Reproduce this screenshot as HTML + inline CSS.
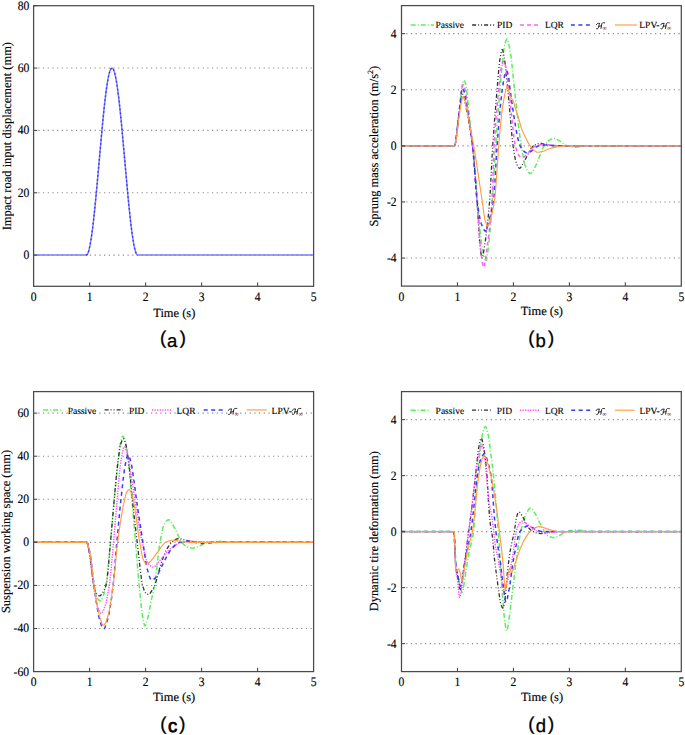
<!DOCTYPE html>
<html><head><meta charset="utf-8"><style>
html,body{margin:0;padding:0;background:#fff;width:685px;height:735px;overflow:hidden}
svg{display:block}
text{text-rendering:geometricPrecision}
.tk{font-family:"Liberation Serif", serif;font-size:12.9px;fill:#000;stroke:#000;stroke-width:0.15px}
.lab{font-family:"Liberation Serif", serif;font-size:12.48px;fill:#000;stroke:#000;stroke-width:0.15px}
.leg{font-family:"Liberation Serif", serif;font-size:9.5px;fill:#000;stroke:#000;stroke-width:0.12px}
.inf{font-family:"Liberation Serif", serif;font-size:6px;fill:#222}
.sub{font-family:"Liberation Sans", sans-serif;font-size:18.5px;fill:#000;stroke:#000;stroke-width:0.3px}
</style></head><body>
<svg width="685" height="735" viewBox="0 0 685 735">
<rect width="685" height="735" fill="#fff"/>
<line x1="38.30" y1="255.12" x2="313.10" y2="255.12" stroke="#8a8a8a" stroke-width="1.1" stroke-dasharray="1.2 3.495"/>
<line x1="38.30" y1="192.77" x2="313.10" y2="192.77" stroke="#8a8a8a" stroke-width="1.1" stroke-dasharray="1.2 3.495"/>
<line x1="38.30" y1="130.41" x2="313.10" y2="130.41" stroke="#8a8a8a" stroke-width="1.1" stroke-dasharray="1.2 3.495"/>
<line x1="38.30" y1="68.06" x2="313.10" y2="68.06" stroke="#8a8a8a" stroke-width="1.1" stroke-dasharray="1.2 3.495"/>
<line x1="406.20" y1="258.05" x2="680.80" y2="258.05" stroke="#8a8a8a" stroke-width="1.1" stroke-dasharray="1.2 3.495"/>
<line x1="406.20" y1="201.95" x2="680.80" y2="201.95" stroke="#8a8a8a" stroke-width="1.1" stroke-dasharray="1.2 3.495"/>
<line x1="406.20" y1="145.85" x2="680.80" y2="145.85" stroke="#8a8a8a" stroke-width="1.1" stroke-dasharray="1.2 3.495"/>
<line x1="406.20" y1="89.75" x2="680.80" y2="89.75" stroke="#8a8a8a" stroke-width="1.1" stroke-dasharray="1.2 3.495"/>
<line x1="406.20" y1="33.65" x2="680.80" y2="33.65" stroke="#8a8a8a" stroke-width="1.1" stroke-dasharray="1.2 3.495"/>
<line x1="38.30" y1="628.52" x2="313.10" y2="628.52" stroke="#8a8a8a" stroke-width="1.1" stroke-dasharray="1.2 3.495"/>
<line x1="38.30" y1="585.45" x2="313.10" y2="585.45" stroke="#8a8a8a" stroke-width="1.1" stroke-dasharray="1.2 3.495"/>
<line x1="38.30" y1="542.37" x2="313.10" y2="542.37" stroke="#8a8a8a" stroke-width="1.1" stroke-dasharray="1.2 3.495"/>
<line x1="38.30" y1="499.29" x2="313.10" y2="499.29" stroke="#8a8a8a" stroke-width="1.1" stroke-dasharray="1.2 3.495"/>
<line x1="38.30" y1="456.22" x2="313.10" y2="456.22" stroke="#8a8a8a" stroke-width="1.1" stroke-dasharray="1.2 3.495"/>
<line x1="38.30" y1="413.14" x2="313.10" y2="413.14" stroke="#8a8a8a" stroke-width="1.1" stroke-dasharray="1.2 3.495"/>
<line x1="406.20" y1="643.60" x2="680.80" y2="643.60" stroke="#8a8a8a" stroke-width="1.1" stroke-dasharray="1.2 3.495"/>
<line x1="406.20" y1="587.60" x2="680.80" y2="587.60" stroke="#8a8a8a" stroke-width="1.1" stroke-dasharray="1.2 3.495"/>
<line x1="406.20" y1="531.60" x2="680.80" y2="531.60" stroke="#8a8a8a" stroke-width="1.1" stroke-dasharray="1.2 3.495"/>
<line x1="406.20" y1="475.60" x2="680.80" y2="475.60" stroke="#8a8a8a" stroke-width="1.1" stroke-dasharray="1.2 3.495"/>
<line x1="406.20" y1="419.60" x2="680.80" y2="419.60" stroke="#8a8a8a" stroke-width="1.1" stroke-dasharray="1.2 3.495"/>
<path d="M33.60,255.12 L86.24,255.12 L86.69,254.97 L87.14,254.57 L87.58,253.87 L88.03,252.90 L88.70,250.93 L89.38,248.36 L90.72,241.51 L92.06,232.50 L93.63,219.62 L94.98,206.87 L96.32,192.91 L102.82,120.84 L104.38,105.58 L105.95,92.37 L107.52,81.67 L108.42,76.85 L109.09,73.89 L109.98,70.87 L110.66,69.30 L111.33,68.36 L112.00,68.06 L112.67,68.36 L113.34,69.30 L114.02,70.87 L114.91,73.89 L116.26,80.37 L117.82,90.67 L119.39,103.56 L121.18,120.84 L127.90,195.31 L129.47,211.27 L130.82,223.54 L132.38,235.73 L133.95,245.21 L134.85,249.29 L135.52,251.65 L136.42,253.87 L137.09,254.82 L137.76,255.12 L313.60,255.12" fill="none" stroke="#7c7cff" stroke-width="1.5" stroke-linejoin="round"/>
<path d="M86.24,255.12 L86.69,254.98 L86.91,254.81 L87.36,254.24 L87.81,253.40 L88.49,251.62 L89.39,248.31 L90.06,245.13 L90.96,240.02 L92.76,227.04 L94.34,213.09 L95.91,197.23 L101.31,136.86 L103.11,117.82 L104.69,102.84 L106.26,90.03 L107.84,79.85 L108.51,76.39 L109.19,73.50 L110.09,70.59 L110.76,69.12 L111.44,68.28 L111.66,68.13 L112.11,68.07 L112.34,68.13 L112.79,68.49 L113.24,69.12 L113.69,70.03 L114.36,71.91 L115.26,75.36 L115.94,78.63 L116.84,83.86 L118.64,97.06 L120.21,111.17 L121.79,127.13 L126.96,185.07 L128.76,204.22 L130.56,221.33 L132.14,233.97 L133.71,243.95 L134.39,247.31 L135.06,250.10 L135.74,252.29 L136.41,253.86 L137.09,254.81 L137.31,254.98 L137.76,255.12" fill="none" stroke="#3232f0" stroke-width="1.3" stroke-dasharray="1.6 2.4" stroke-linejoin="round"/>
<path d="M401.50,145.85 L454.55,145.82 L454.77,145.54 L455.00,145.02 L455.45,143.27 L456.34,137.55 L459.47,109.24 L460.82,96.28 L462.16,85.80 L462.61,83.35 L463.28,81.28 L463.73,80.39 L463.95,80.22 L464.18,80.28 L464.40,80.53 L465.29,82.74 L465.74,84.51 L466.41,88.55 L467.09,93.41 L469.32,116.02 L472.68,144.21 L474.02,158.87 L479.40,224.79 L480.74,238.54 L481.41,243.39 L482.75,250.55 L483.65,254.73 L484.32,257.28 L484.77,258.61 L485.44,259.93 L485.89,260.28 L486.11,260.26 L486.34,259.97 L486.78,258.61 L487.23,256.34 L487.68,253.32 L488.80,243.60 L490.59,225.59 L491.93,206.75 L495.51,148.22 L498.87,102.08 L500.88,78.07 L502.68,59.49 L503.79,50.00 L504.47,46.27 L505.59,41.91 L506.26,39.98 L506.70,39.21 L506.93,39.02 L507.15,38.99 L507.38,39.14 L507.60,39.49 L508.05,40.68 L508.50,42.41 L510.29,51.73 L510.96,56.34 L511.85,64.00 L514.09,85.75 L518.34,123.98 L519.91,136.78 L521.25,145.85 L523.49,158.40 L524.39,162.51 L525.06,165.01 L525.73,166.89 L527.52,170.73 L528.64,172.53 L529.54,173.41 L529.98,173.59 L530.43,173.59 L530.88,173.40 L531.55,172.80 L532.67,171.22 L535.36,166.54 L536.25,164.68 L537.37,162.03 L541.85,150.42 L542.97,147.98 L544.09,146.02 L546.32,142.98 L547.44,141.71 L548.34,140.88 L549.23,140.24 L551.25,139.08 L552.37,138.59 L553.26,138.34 L554.16,138.28 L554.83,138.39 L556.40,139.04 L560.43,141.47 L564.90,144.64 L566.69,145.60 L570.72,146.72 L572.51,147.06 L574.08,147.22 L575.65,147.24 L577.21,147.11 L583.26,146.09 L585.94,145.85 L681.30,145.85" fill="none" stroke="#5cee5c" stroke-width="1.5" stroke-dasharray="5 2 1 2" stroke-linejoin="round"/>
<path d="M401.50,145.85 L454.55,145.81 L454.77,145.51 L455.22,144.08 L455.89,140.25 L456.56,134.93 L458.58,116.40 L460.37,104.16 L461.71,96.68 L462.38,94.83 L462.61,94.44 L462.83,94.25 L463.06,94.32 L463.50,95.21 L464.18,97.39 L465.29,103.77 L468.65,120.60 L471.11,135.05 L472.68,146.81 L474.02,160.65 L475.81,183.75 L477.16,202.39 L478.95,232.70 L479.62,241.81 L480.52,249.94 L481.19,255.00 L481.63,257.22 L481.86,257.83 L482.08,258.05 L482.31,257.90 L482.53,257.47 L483.20,254.81 L485.44,240.33 L487.01,228.16 L488.35,215.33 L489.47,202.73 L490.14,193.59 L492.16,155.30 L493.05,140.86 L494.39,122.31 L495.96,102.84 L498.65,70.97 L499.54,62.06 L499.99,58.89 L501.11,52.63 L501.78,50.18 L502.00,49.78 L502.23,49.64 L502.45,49.79 L502.90,50.85 L503.57,53.84 L504.69,60.24 L505.59,67.22 L508.50,96.76 L511.63,132.92 L512.52,141.50 L513.20,146.63 L514.76,156.61 L515.43,159.94 L515.88,161.68 L517.00,164.63 L517.90,166.56 L518.57,167.62 L519.24,168.21 L519.69,168.28 L520.14,168.08 L520.58,167.66 L521.25,166.71 L523.05,163.42 L525.06,160.00 L529.76,150.74 L530.88,148.85 L532.00,147.29 L532.67,146.55 L533.34,145.99 L535.36,144.84 L537.59,143.83 L539.39,143.39 L540.50,143.33 L541.62,143.47 L545.65,144.73 L547.00,145.01 L552.82,145.62 L557.29,145.84 L681.30,145.85" fill="none" stroke="#333333" stroke-width="1.3" stroke-dasharray="4 2 1 2 1 2" stroke-linejoin="round"/>
<path d="M401.50,145.85 L454.55,145.82 L454.77,145.54 L455.00,145.01 L455.45,143.27 L456.34,137.53 L460.59,98.63 L461.71,89.62 L462.16,87.15 L462.61,85.68 L463.06,84.64 L463.28,84.43 L463.50,84.51 L463.95,85.40 L464.85,88.42 L465.97,94.67 L466.64,99.78 L468.65,117.80 L471.56,137.75 L472.68,146.87 L473.80,158.66 L475.14,175.45 L477.38,205.34 L479.40,235.50 L480.07,243.64 L481.41,255.42 L482.31,262.12 L482.98,265.66 L483.43,266.99 L483.65,267.27 L483.87,267.27 L484.10,266.96 L484.54,265.51 L485.44,260.16 L489.25,230.54 L490.14,222.34 L491.04,212.60 L491.93,200.80 L492.38,192.51 L493.72,155.61 L494.39,142.02 L495.96,118.74 L497.75,98.02 L499.77,78.62 L500.88,69.76 L501.33,67.25 L502.00,64.83 L502.90,62.36 L503.57,61.29 L503.79,61.16 L504.02,61.17 L504.24,61.40 L504.91,63.21 L506.26,69.25 L506.93,73.34 L509.61,95.52 L513.42,133.01 L514.32,140.02 L514.99,144.07 L516.33,149.36 L517.23,152.14 L517.90,153.82 L518.57,155.08 L519.02,155.67 L520.36,156.97 L521.48,157.70 L522.15,157.90 L522.60,157.89 L523.27,157.66 L523.94,157.19 L528.19,152.96 L532.45,148.20 L533.57,147.16 L534.68,146.35 L535.58,145.92 L538.27,145.21 L540.50,144.77 L542.74,144.50 L544.53,144.45 L546.77,144.57 L554.61,145.62 L557.96,145.85 L681.30,145.85" fill="none" stroke="#ff5cff" stroke-width="1.5" stroke-dasharray="3.8 3.2" stroke-linejoin="round"/>
<path d="M401.50,145.85 L454.55,145.81 L454.77,145.54 L455.00,145.01 L455.45,143.26 L456.34,137.51 L461.49,91.41 L462.16,88.85 L462.38,88.33 L462.61,88.08 L462.83,88.16 L463.28,89.04 L464.18,91.77 L465.07,95.68 L465.97,100.32 L470.44,129.55 L471.79,139.26 L472.68,146.89 L473.35,154.26 L476.26,193.17 L476.93,199.56 L478.50,210.48 L479.84,218.05 L480.52,221.05 L481.19,223.44 L482.53,226.93 L483.65,229.33 L484.54,230.63 L484.99,230.99 L485.44,231.12 L485.66,231.05 L486.11,230.51 L486.56,229.51 L487.01,228.15 L489.25,219.20 L491.48,211.29 L492.60,206.35 L493.72,199.58 L494.17,195.07 L494.62,188.76 L496.41,156.24 L497.08,145.85 L499.09,120.44 L500.66,103.21 L502.00,91.39 L503.79,79.60 L504.47,76.31 L504.91,74.66 L505.81,72.18 L506.26,71.30 L506.48,71.05 L506.70,70.96 L506.93,71.08 L507.38,71.95 L507.82,73.43 L508.50,76.27 L508.94,79.54 L510.06,89.75 L513.87,116.18 L516.11,129.85 L517.23,135.62 L518.12,139.57 L519.02,142.85 L519.69,144.80 L520.58,146.76 L521.70,148.75 L522.82,150.30 L523.72,151.20 L525.28,152.28 L526.40,152.86 L527.07,153.07 L527.75,153.14 L528.42,153.01 L529.09,152.69 L532.89,149.88 L536.25,147.03 L537.82,146.09 L538.49,145.87 L541.18,145.44 L545.43,145.04 L549.01,145.08 L555.28,145.71 L557.96,145.85 L681.30,145.85" fill="none" stroke="#3a3aff" stroke-width="1.5" stroke-dasharray="4 3.5" stroke-linejoin="round"/>
<path d="M401.50,145.85 L454.55,145.82 L454.77,145.57 L455.22,144.38 L455.67,142.39 L456.12,139.77 L458.80,118.71 L460.82,105.18 L461.71,100.55 L462.16,98.88 L463.06,96.74 L463.28,96.51 L463.50,96.51 L463.73,96.74 L464.18,97.67 L464.85,99.74 L471.11,131.84 L473.58,145.21 L475.37,155.95 L477.38,168.89 L482.31,201.48 L483.87,213.14 L484.77,218.84 L485.22,220.86 L486.34,223.94 L487.23,225.62 L487.68,226.02 L487.90,226.07 L488.13,225.98 L488.35,225.71 L489.02,224.08 L491.93,213.52 L493.27,207.56 L494.62,199.60 L495.07,195.76 L495.74,188.03 L498.65,146.50 L500.44,125.92 L501.56,114.73 L502.68,106.36 L504.24,97.22 L505.59,91.19 L506.70,87.09 L507.15,86.15 L507.38,86.14 L507.60,86.45 L508.05,87.72 L509.17,91.99 L510.06,95.96 L510.51,97.39 L510.96,98.03 L511.85,98.81 L512.30,99.40 L512.97,100.57 L513.64,102.11 L516.55,112.02 L519.02,119.76 L520.81,126.45 L521.93,129.66 L523.27,132.88 L525.51,137.58 L527.75,141.86 L529.54,144.85 L531.55,147.79 L532.67,149.26 L533.79,150.38 L535.58,151.51 L536.92,152.11 L537.82,152.29 L539.16,152.22 L542.74,151.40 L544.09,150.93 L547.89,149.29 L552.37,147.92 L555.50,147.14 L557.52,146.78 L560.65,146.41 L566.92,145.90 L681.30,145.85" fill="none" stroke="#ff9d45" stroke-width="1.15" stroke-linejoin="round"/>
<path d="M33.60,542.37 L86.46,542.37 L86.69,542.43 L87.14,543.16 L87.58,544.53 L89.38,552.65 L90.50,560.11 L93.18,581.28 L93.86,585.18 L95.65,593.28 L96.77,597.02 L97.22,598.01 L97.66,598.68 L98.78,600.04 L99.68,600.75 L100.13,600.92 L100.58,600.92 L101.02,600.56 L101.70,599.43 L102.37,597.88 L103.49,595.07 L104.38,592.33 L105.28,588.87 L105.95,585.73 L106.85,579.98 L107.52,574.19 L108.42,565.14 L111.10,535.67 L114.02,501.75 L116.03,480.02 L117.38,466.83 L119.17,451.16 L120.06,444.97 L121.63,438.20 L122.30,436.49 L122.53,436.24 L122.75,436.19 L123.20,436.54 L123.87,437.93 L124.77,440.83 L125.89,445.14 L126.56,448.65 L127.23,452.91 L128.80,464.83 L130.14,478.48 L138.21,574.67 L139.78,591.86 L141.34,607.00 L142.46,615.84 L144.03,623.75 L144.48,625.19 L144.70,625.63 L144.93,625.82 L145.15,625.78 L145.38,625.55 L146.05,624.07 L147.84,617.80 L148.74,613.57 L151.20,600.52 L153.44,590.98 L154.56,585.45 L155.23,581.14 L155.90,575.96 L158.37,554.15 L159.26,547.05 L160.38,540.18 L162.18,530.81 L163.07,527.16 L163.97,524.70 L165.09,522.84 L165.98,521.57 L166.88,520.58 L167.78,519.94 L168.22,519.79 L168.67,519.76 L169.34,520.02 L170.24,520.86 L171.36,522.47 L174.72,528.15 L179.42,538.34 L180.54,540.44 L181.66,542.10 L184.35,544.96 L185.47,545.91 L186.37,546.53 L187.26,546.98 L188.38,547.36 L191.30,548.07 L193.31,548.16 L195.10,547.74 L200.26,545.66 L205.18,543.35 L207.42,542.56 L212.35,541.74 L216.61,541.34 L218.62,541.29 L220.19,541.37 L226.69,542.19 L229.38,542.37 L313.60,542.37" fill="none" stroke="#5cee5c" stroke-width="1.5" stroke-dasharray="5 2 1 2" stroke-linejoin="round"/>
<path d="M33.60,542.37 L86.46,542.37 L86.69,542.43 L87.14,543.16 L87.58,544.53 L89.38,552.66 L90.27,558.61 L92.96,580.22 L93.63,584.19 L94.53,587.83 L95.65,591.56 L96.32,593.19 L96.77,593.93 L98.11,595.29 L98.78,595.75 L99.23,595.93 L99.90,595.97 L100.35,595.74 L100.80,595.32 L103.49,591.46 L104.83,588.81 L105.50,587.04 L106.18,584.80 L106.85,580.92 L107.52,575.32 L108.19,568.48 L114.02,501.75 L116.26,477.29 L117.38,466.66 L119.39,451.09 L120.06,446.96 L120.51,444.82 L120.96,443.29 L122.30,440.11 L122.98,439.10 L123.42,438.80 L123.65,438.77 L124.10,439.14 L124.54,440.03 L124.99,441.33 L125.66,443.81 L127.01,449.82 L127.90,455.84 L130.14,475.56 L132.16,497.61 L133.73,512.50 L137.76,547.19 L140.22,569.50 L141.57,579.68 L142.46,584.55 L143.36,587.84 L144.26,590.56 L144.93,592.08 L145.38,592.76 L146.27,593.51 L147.17,594.07 L148.06,594.42 L148.74,594.49 L149.18,594.33 L149.86,593.70 L152.99,588.90 L153.89,587.25 L154.78,585.31 L155.46,583.50 L156.35,580.55 L159.49,568.83 L161.73,561.83 L164.19,554.68 L165.31,551.95 L166.21,550.11 L168.67,546.09 L169.79,544.59 L170.91,543.31 L171.81,542.46 L174.72,540.10 L175.84,539.38 L176.96,538.89 L178.08,538.71 L179.87,538.85 L181.66,539.19 L185.70,540.25 L187.49,540.63 L195.78,541.94 L198.46,542.23 L200.70,542.36 L313.60,542.37" fill="none" stroke="#333333" stroke-width="1.3" stroke-dasharray="4 2 1 2 1 2" stroke-linejoin="round"/>
<path d="M33.60,542.37 L86.46,542.37 L86.69,542.43 L87.14,543.14 L87.81,545.35 L89.15,551.52 L89.60,554.05 L90.50,560.62 L92.29,576.24 L93.18,583.25 L95.20,595.63 L96.54,602.76 L97.66,607.13 L98.78,609.97 L99.68,611.89 L100.35,612.92 L100.80,613.33 L101.25,613.44 L101.47,613.38 L101.92,613.04 L102.82,611.64 L103.71,609.59 L105.06,606.06 L105.95,603.03 L106.85,599.24 L107.74,594.76 L109.54,583.92 L110.43,576.38 L111.55,564.69 L114.46,531.57 L118.94,478.51 L119.84,469.17 L120.29,465.58 L121.18,459.82 L122.53,452.10 L123.20,449.22 L123.65,447.84 L124.10,446.99 L124.32,446.79 L124.54,446.74 L124.77,446.84 L125.22,447.42 L125.66,448.42 L126.11,449.77 L127.23,454.12 L129.02,462.04 L131.71,478.46 L134.62,498.22 L139.10,526.49 L141.12,537.61 L143.81,549.87 L145.60,557.13 L146.50,560.01 L147.17,561.67 L147.84,562.83 L149.63,564.98 L150.75,566.05 L151.87,566.79 L152.77,567.10 L153.66,567.08 L154.56,566.66 L155.46,565.91 L156.58,564.64 L159.49,560.80 L161.95,558.03 L166.66,552.40 L168.90,550.02 L170.69,548.48 L175.17,545.40 L176.96,544.34 L178.75,543.44 L180.10,542.90 L181.44,542.50 L185.92,541.66 L189.06,541.33 L192.64,541.32 L197.12,541.52 L207.42,542.21 L212.35,542.37 L313.60,542.37" fill="none" stroke="#ff4cff" stroke-width="1.45" stroke-dasharray="1.3 1.25" stroke-linejoin="round"/>
<path d="M33.60,542.37 L86.91,542.37 L87.14,542.38 L87.36,542.54 L87.81,543.43 L88.48,545.81 L89.82,552.08 L90.27,554.70 L91.17,561.22 L93.86,583.83 L96.77,604.93 L98.34,614.38 L99.01,617.34 L100.35,622.14 L101.25,625.03 L101.92,626.81 L102.59,628.13 L103.04,628.69 L103.49,628.94 L103.71,628.94 L104.16,628.69 L104.61,628.13 L105.06,627.31 L105.95,625.03 L106.85,622.14 L108.42,616.47 L109.76,609.85 L111.33,599.58 L112.67,589.16 L113.57,581.32 L114.46,571.35 L116.48,546.19 L118.50,524.06 L120.29,505.65 L122.98,480.72 L124.32,470.30 L126.11,460.41 L126.78,457.36 L127.23,455.86 L127.68,454.93 L127.90,454.73 L128.13,454.72 L128.35,454.86 L128.80,455.48 L129.70,457.81 L131.26,463.58 L131.94,467.06 L134.18,482.26 L136.19,497.67 L137.98,510.20 L143.14,543.82 L145.38,559.24 L146.27,564.68 L147.17,568.88 L149.18,575.83 L150.30,578.75 L150.98,579.84 L151.42,580.21 L151.87,580.27 L152.54,580.10 L153.66,579.42 L154.78,578.38 L156.35,576.71 L157.25,575.49 L158.59,573.04 L161.73,566.30 L166.66,556.64 L168.67,552.99 L170.24,550.62 L173.38,546.86 L175.62,544.53 L177.41,543.14 L178.30,542.67 L179.20,542.37 L181.89,541.83 L184.13,541.50 L186.37,541.32 L188.38,541.31 L191.52,541.70 L198.46,543.17 L200.03,543.37 L201.60,543.45 L205.18,543.32 L213.92,542.56 L217.95,542.37 L313.60,542.37" fill="none" stroke="#3a3aff" stroke-width="1.5" stroke-dasharray="4 3.5" stroke-linejoin="round"/>
<path d="M33.60,542.37 L86.69,542.37 L86.91,542.39 L87.14,542.56 L87.81,543.93 L88.48,546.24 L89.82,552.02 L90.27,554.58 L91.17,561.15 L93.86,583.90 L96.32,600.28 L97.89,609.30 L99.01,614.14 L100.58,619.43 L101.47,622.10 L102.14,623.69 L102.59,624.49 L103.26,625.20 L103.71,625.28 L104.38,624.86 L105.06,623.89 L105.73,622.48 L106.40,620.73 L108.42,614.45 L109.09,611.63 L109.76,608.20 L111.33,598.39 L113.34,583.72 L114.24,575.64 L117.15,546.02 L118.94,532.49 L120.96,518.96 L123.20,506.22 L124.32,500.95 L125.66,495.43 L126.34,493.09 L126.78,491.92 L127.68,490.59 L128.13,490.13 L128.58,489.85 L129.02,489.85 L129.70,490.31 L130.37,491.15 L131.26,492.60 L132.16,495.14 L133.28,499.53 L134.18,504.01 L135.07,509.63 L137.98,531.12 L139.10,538.75 L141.79,553.74 L142.69,557.63 L143.36,559.60 L144.93,562.72 L145.60,563.63 L146.27,564.09 L146.72,564.11 L147.17,563.99 L148.06,563.49 L150.30,561.56 L151.42,560.40 L152.77,558.71 L155.68,554.61 L157.92,551.67 L161.73,546.28 L162.85,544.87 L163.97,543.67 L165.31,542.61 L167.33,541.66 L169.79,540.75 L171.81,540.30 L173.15,540.22 L174.94,540.33 L181.66,541.47 L187.26,542.19 L190.18,542.37 L313.60,542.37" fill="none" stroke="#ff9d45" stroke-width="1.15" stroke-linejoin="round"/>
<path d="M401.50,531.60 L453.88,531.60 L454.10,532.61 L454.33,535.36 L455.45,560.53 L455.89,568.07 L456.12,569.66 L456.34,570.54 L457.24,572.88 L457.68,574.51 L459.47,583.88 L460.82,589.26 L461.27,590.78 L461.71,591.88 L461.94,592.20 L462.16,592.35 L462.38,592.25 L462.83,591.04 L463.28,588.79 L467.76,559.32 L468.65,554.00 L469.55,549.76 L471.56,542.09 L472.23,539.16 L472.90,535.62 L473.58,531.18 L474.02,526.74 L474.47,520.78 L476.49,489.60 L478.28,468.55 L479.62,455.14 L481.19,442.20 L482.31,435.08 L483.20,431.45 L484.10,428.43 L484.77,426.97 L485.22,426.60 L485.44,426.64 L485.89,427.12 L486.34,428.05 L486.78,429.36 L488.35,435.49 L488.80,437.97 L492.60,467.95 L493.72,477.70 L495.74,499.12 L498.20,530.10 L499.09,543.09 L501.56,582.89 L503.57,609.66 L504.24,616.56 L505.59,626.82 L506.26,630.23 L506.48,630.80 L506.70,631.00 L506.93,630.83 L507.15,630.34 L507.82,627.35 L509.84,613.27 L512.75,588.51 L515.66,565.10 L518.57,544.06 L520.14,534.34 L521.03,530.13 L522.37,524.66 L523.49,520.71 L524.61,517.40 L525.51,515.26 L527.75,510.88 L528.86,509.17 L529.76,508.32 L530.43,508.08 L530.88,508.14 L531.33,508.36 L532.22,509.18 L533.34,510.74 L537.15,517.13 L541.40,526.36 L542.74,529.05 L543.86,530.91 L544.98,532.38 L547.00,534.70 L548.56,536.01 L549.23,536.36 L551.03,537.05 L553.26,537.65 L555.05,537.73 L555.73,537.58 L556.62,537.22 L561.10,534.58 L564.23,532.50 L565.80,531.74 L568.04,531.24 L570.95,530.74 L573.41,530.43 L575.87,530.25 L578.11,530.20 L580.12,530.31 L588.18,531.37 L591.54,531.60 L681.30,531.60" fill="none" stroke="#5cee5c" stroke-width="1.5" stroke-dasharray="5 2 1 2" stroke-linejoin="round"/>
<path d="M401.50,531.60 L453.65,531.60 L453.88,531.85 L454.10,533.73 L454.33,537.09 L455.45,561.92 L455.89,568.00 L456.34,570.53 L457.68,576.16 L459.47,587.30 L459.92,588.88 L460.15,589.23 L460.37,589.23 L460.59,588.88 L460.82,588.21 L461.49,584.76 L464.18,566.05 L468.43,533.29 L471.34,511.71 L473.13,496.82 L478.05,451.95 L478.72,447.60 L480.07,440.74 L480.74,438.56 L480.96,438.20 L481.19,438.08 L481.41,438.19 L481.63,438.51 L482.08,439.69 L482.98,443.55 L484.32,450.82 L485.44,459.41 L486.34,468.36 L487.01,476.34 L488.35,499.89 L489.02,509.83 L489.69,518.13 L490.36,524.21 L491.04,529.08 L492.38,536.49 L492.83,539.55 L494.17,556.24 L495.07,564.00 L497.98,586.00 L499.99,600.36 L500.44,602.60 L501.33,605.44 L502.00,607.09 L502.45,607.79 L502.68,607.97 L502.90,608.04 L503.12,607.88 L503.35,607.44 L503.79,605.85 L505.14,598.05 L505.81,591.57 L507.38,572.68 L508.94,559.58 L510.29,550.38 L511.41,544.39 L513.42,535.89 L514.32,531.60 L515.88,520.80 L516.55,517.01 L517.23,514.89 L517.90,513.19 L518.34,512.40 L518.79,512.02 L519.24,512.07 L519.69,512.34 L520.81,513.71 L523.27,517.73 L525.96,523.45 L526.85,525.14 L528.86,527.96 L530.43,529.84 L531.55,530.88 L532.67,531.58 L536.25,532.85 L539.16,533.46 L540.95,533.56 L542.74,533.42 L544.76,533.05 L549.68,531.90 L552.37,531.60 L681.30,531.60" fill="none" stroke="#333333" stroke-width="1.3" stroke-dasharray="4 2 1 2 1 2" stroke-linejoin="round"/>
<path d="M401.50,531.60 L453.65,531.60 L453.88,531.87 L454.10,533.86 L454.33,537.44 L455.45,564.06 L455.89,570.80 L456.34,573.73 L457.24,577.91 L457.68,580.87 L458.80,592.37 L459.25,595.96 L459.47,597.02 L459.70,597.40 L459.92,597.18 L460.37,595.58 L460.82,592.89 L463.73,572.00 L468.20,535.10 L472.01,506.40 L474.92,480.03 L477.16,463.29 L478.28,456.27 L479.17,452.18 L480.29,448.54 L480.96,446.74 L481.63,445.60 L482.08,445.36 L482.31,445.49 L482.53,445.88 L483.20,448.30 L483.87,452.08 L484.99,459.59 L485.66,465.67 L488.13,493.39 L488.80,499.96 L489.92,507.71 L490.36,509.98 L491.48,514.23 L491.93,516.98 L494.39,536.92 L495.51,547.00 L496.18,550.18 L497.30,554.20 L497.98,557.43 L499.99,570.30 L502.90,587.87 L503.57,590.63 L504.02,591.62 L504.24,591.79 L504.47,591.75 L504.91,591.14 L505.36,589.96 L505.81,588.33 L507.60,580.14 L509.84,570.67 L511.41,563.23 L513.20,553.29 L515.21,537.48 L516.11,532.07 L517.45,527.27 L518.57,524.49 L519.02,523.76 L520.14,522.32 L520.81,521.67 L521.48,521.29 L521.93,521.24 L522.60,521.36 L523.94,522.01 L528.86,525.37 L534.01,529.25 L535.36,530.14 L536.70,530.88 L538.27,531.51 L541.18,532.23 L543.64,532.71 L545.88,532.97 L547.44,532.99 L549.01,532.88 L555.28,531.83 L557.96,531.60 L681.30,531.60" fill="none" stroke="#ff4cff" stroke-width="1.45" stroke-dasharray="1.3 1.25" stroke-linejoin="round"/>
<path d="M401.50,531.60 L453.88,531.60 L454.10,532.14 L454.55,537.86 L455.67,562.23 L456.12,568.00 L456.56,570.32 L457.68,574.56 L459.03,581.27 L459.70,584.18 L460.37,585.95 L460.59,586.17 L460.82,586.16 L461.04,585.87 L461.27,585.31 L461.94,582.32 L462.61,577.87 L464.18,565.91 L464.85,561.79 L465.97,556.17 L469.32,540.53 L470.22,535.68 L471.11,530.12 L472.23,521.50 L474.25,503.60 L476.71,479.26 L477.16,475.95 L478.05,470.65 L479.40,463.95 L480.07,461.33 L480.74,459.32 L482.08,456.47 L482.98,454.95 L483.87,453.98 L484.54,453.76 L484.77,453.86 L485.22,454.40 L485.89,455.90 L488.57,464.46 L489.92,469.66 L491.04,475.60 L491.48,479.13 L492.16,486.69 L494.39,517.43 L495.96,532.06 L497.75,545.71 L500.21,561.21 L502.23,577.78 L504.69,596.95 L505.36,600.70 L505.81,601.99 L506.03,602.16 L506.26,602.04 L506.48,601.70 L507.15,599.60 L509.17,589.22 L510.06,583.56 L512.30,566.72 L513.20,560.85 L516.11,545.47 L517.90,537.53 L518.57,535.16 L519.24,533.22 L519.91,531.79 L520.81,530.44 L521.93,529.08 L523.05,528.06 L523.94,527.46 L525.96,526.46 L526.85,526.16 L527.75,526.01 L528.64,526.06 L529.54,526.28 L530.88,526.85 L534.01,528.51 L538.94,530.72 L540.73,531.35 L542.30,531.60 L681.30,531.60" fill="none" stroke="#3a3aff" stroke-width="1.5" stroke-dasharray="4 3.5" stroke-linejoin="round"/>
<path d="M401.50,531.60 L454.10,531.60 L454.33,532.96 L454.55,536.62 L455.67,566.34 L455.89,570.00 L456.12,571.36 L456.34,571.31 L456.79,570.96 L457.68,569.97 L458.36,569.03 L458.58,568.86 L458.80,568.88 L459.03,569.21 L459.47,570.57 L460.37,574.00 L461.71,580.00 L461.94,580.59 L462.16,580.87 L462.38,580.72 L462.83,578.94 L464.18,569.40 L467.53,551.04 L468.88,545.18 L471.56,535.54 L472.68,530.00 L473.35,525.29 L474.25,517.49 L476.71,492.40 L477.83,482.08 L478.50,477.03 L480.07,467.60 L480.96,463.07 L481.86,459.88 L482.75,458.04 L483.43,456.92 L484.10,456.19 L484.54,456.00 L484.77,456.04 L485.22,456.53 L486.11,458.64 L488.13,464.67 L489.69,470.51 L491.04,476.30 L492.38,482.94 L493.72,490.46 L495.29,500.14 L496.41,507.58 L497.53,515.99 L501.78,551.26 L503.12,564.39 L504.69,586.70 L505.14,589.84 L505.36,590.10 L505.59,589.67 L506.03,587.44 L507.38,577.27 L508.72,570.83 L509.39,568.68 L509.61,568.36 L509.84,568.29 L510.06,568.57 L510.96,571.45 L511.41,572.43 L511.63,572.46 L512.08,572.05 L512.52,571.20 L512.97,570.03 L517.23,556.81 L519.02,551.86 L521.48,545.63 L523.49,541.40 L525.06,538.63 L526.63,536.12 L528.19,533.91 L529.54,532.30 L531.77,530.11 L533.57,528.63 L535.13,527.68 L536.70,527.09 L537.82,526.76 L538.94,526.58 L539.83,526.58 L540.95,526.75 L542.52,527.20 L546.32,528.61 L553.49,530.73 L556.17,531.34 L558.64,531.59 L681.30,531.60" fill="none" stroke="#ff9d45" stroke-width="1.15" stroke-linejoin="round"/>
<rect x="33.60" y="5.70" width="280.00" height="280.60" fill="none" stroke="#4a4a4a" stroke-width="1.25"/>
<line x1="33.60" y1="255.12" x2="37.20" y2="255.12" stroke="#4a4a4a" stroke-width="1.1"/>
<text transform="translate(29.30,259.02) scale(0.9,1)" text-anchor="end" class="tk">0</text>
<line x1="33.60" y1="192.77" x2="37.20" y2="192.77" stroke="#4a4a4a" stroke-width="1.1"/>
<text transform="translate(29.30,196.67) scale(0.9,1)" text-anchor="end" class="tk">20</text>
<line x1="33.60" y1="130.41" x2="37.20" y2="130.41" stroke="#4a4a4a" stroke-width="1.1"/>
<text transform="translate(29.30,134.31) scale(0.9,1)" text-anchor="end" class="tk">40</text>
<line x1="33.60" y1="68.06" x2="37.20" y2="68.06" stroke="#4a4a4a" stroke-width="1.1"/>
<text transform="translate(29.30,71.96) scale(0.9,1)" text-anchor="end" class="tk">60</text>
<line x1="33.60" y1="5.70" x2="37.20" y2="5.70" stroke="#4a4a4a" stroke-width="1.1"/>
<text transform="translate(29.30,9.60) scale(0.9,1)" text-anchor="end" class="tk">80</text>
<text transform="translate(33.60,301.00) scale(0.9,1)" text-anchor="middle" class="tk">0</text>
<line x1="89.60" y1="286.30" x2="89.60" y2="282.50" stroke="#4a4a4a" stroke-width="1.1"/>
<text transform="translate(89.60,301.00) scale(0.9,1)" text-anchor="middle" class="tk">1</text>
<line x1="145.60" y1="286.30" x2="145.60" y2="282.50" stroke="#4a4a4a" stroke-width="1.1"/>
<text transform="translate(145.60,301.00) scale(0.9,1)" text-anchor="middle" class="tk">2</text>
<line x1="201.60" y1="286.30" x2="201.60" y2="282.50" stroke="#4a4a4a" stroke-width="1.1"/>
<text transform="translate(201.60,301.00) scale(0.9,1)" text-anchor="middle" class="tk">3</text>
<line x1="257.60" y1="286.30" x2="257.60" y2="282.50" stroke="#4a4a4a" stroke-width="1.1"/>
<text transform="translate(257.60,301.00) scale(0.9,1)" text-anchor="middle" class="tk">4</text>
<text transform="translate(313.60,301.00) scale(0.9,1)" text-anchor="middle" class="tk">5</text>
<rect x="401.50" y="5.60" width="279.80" height="280.50" fill="none" stroke="#4a4a4a" stroke-width="1.25"/>
<line x1="401.50" y1="258.05" x2="405.10" y2="258.05" stroke="#4a4a4a" stroke-width="1.1"/>
<text transform="translate(396.60,261.95) scale(0.9,1)" text-anchor="end" class="tk">-4</text>
<line x1="401.50" y1="201.95" x2="405.10" y2="201.95" stroke="#4a4a4a" stroke-width="1.1"/>
<text transform="translate(396.60,205.85) scale(0.9,1)" text-anchor="end" class="tk">-2</text>
<line x1="401.50" y1="145.85" x2="405.10" y2="145.85" stroke="#4a4a4a" stroke-width="1.1"/>
<text transform="translate(396.60,149.75) scale(0.9,1)" text-anchor="end" class="tk">0</text>
<line x1="401.50" y1="89.75" x2="405.10" y2="89.75" stroke="#4a4a4a" stroke-width="1.1"/>
<text transform="translate(396.60,93.65) scale(0.9,1)" text-anchor="end" class="tk">2</text>
<line x1="401.50" y1="33.65" x2="405.10" y2="33.65" stroke="#4a4a4a" stroke-width="1.1"/>
<text transform="translate(396.60,37.55) scale(0.9,1)" text-anchor="end" class="tk">4</text>
<text transform="translate(401.50,300.60) scale(0.9,1)" text-anchor="middle" class="tk">0</text>
<line x1="457.46" y1="286.10" x2="457.46" y2="282.30" stroke="#4a4a4a" stroke-width="1.1"/>
<text transform="translate(457.46,300.60) scale(0.9,1)" text-anchor="middle" class="tk">1</text>
<line x1="513.42" y1="286.10" x2="513.42" y2="282.30" stroke="#4a4a4a" stroke-width="1.1"/>
<text transform="translate(513.42,300.60) scale(0.9,1)" text-anchor="middle" class="tk">2</text>
<line x1="569.38" y1="286.10" x2="569.38" y2="282.30" stroke="#4a4a4a" stroke-width="1.1"/>
<text transform="translate(569.38,300.60) scale(0.9,1)" text-anchor="middle" class="tk">3</text>
<line x1="625.34" y1="286.10" x2="625.34" y2="282.30" stroke="#4a4a4a" stroke-width="1.1"/>
<text transform="translate(625.34,300.60) scale(0.9,1)" text-anchor="middle" class="tk">4</text>
<text transform="translate(681.30,300.60) scale(0.9,1)" text-anchor="middle" class="tk">5</text>
<rect x="33.60" y="391.60" width="280.00" height="280.00" fill="none" stroke="#4a4a4a" stroke-width="1.25"/>
<text transform="translate(29.00,675.50) scale(0.9,1)" text-anchor="end" class="tk">-60</text>
<line x1="33.60" y1="628.52" x2="37.20" y2="628.52" stroke="#4a4a4a" stroke-width="1.1"/>
<text transform="translate(29.00,632.42) scale(0.9,1)" text-anchor="end" class="tk">-40</text>
<line x1="33.60" y1="585.45" x2="37.20" y2="585.45" stroke="#4a4a4a" stroke-width="1.1"/>
<text transform="translate(29.00,589.35) scale(0.9,1)" text-anchor="end" class="tk">-20</text>
<line x1="33.60" y1="542.37" x2="37.20" y2="542.37" stroke="#4a4a4a" stroke-width="1.1"/>
<text transform="translate(29.00,546.27) scale(0.9,1)" text-anchor="end" class="tk">0</text>
<line x1="33.60" y1="499.29" x2="37.20" y2="499.29" stroke="#4a4a4a" stroke-width="1.1"/>
<text transform="translate(29.00,503.19) scale(0.9,1)" text-anchor="end" class="tk">20</text>
<line x1="33.60" y1="456.22" x2="37.20" y2="456.22" stroke="#4a4a4a" stroke-width="1.1"/>
<text transform="translate(29.00,460.12) scale(0.9,1)" text-anchor="end" class="tk">40</text>
<line x1="33.60" y1="413.14" x2="37.20" y2="413.14" stroke="#4a4a4a" stroke-width="1.1"/>
<text transform="translate(29.00,417.04) scale(0.9,1)" text-anchor="end" class="tk">60</text>
<text transform="translate(33.60,686.10) scale(0.9,1)" text-anchor="middle" class="tk">0</text>
<line x1="89.60" y1="671.60" x2="89.60" y2="667.80" stroke="#4a4a4a" stroke-width="1.1"/>
<text transform="translate(89.60,686.10) scale(0.9,1)" text-anchor="middle" class="tk">1</text>
<line x1="145.60" y1="671.60" x2="145.60" y2="667.80" stroke="#4a4a4a" stroke-width="1.1"/>
<text transform="translate(145.60,686.10) scale(0.9,1)" text-anchor="middle" class="tk">2</text>
<line x1="201.60" y1="671.60" x2="201.60" y2="667.80" stroke="#4a4a4a" stroke-width="1.1"/>
<text transform="translate(201.60,686.10) scale(0.9,1)" text-anchor="middle" class="tk">3</text>
<line x1="257.60" y1="671.60" x2="257.60" y2="667.80" stroke="#4a4a4a" stroke-width="1.1"/>
<text transform="translate(257.60,686.10) scale(0.9,1)" text-anchor="middle" class="tk">4</text>
<text transform="translate(313.60,686.10) scale(0.9,1)" text-anchor="middle" class="tk">5</text>
<rect x="401.50" y="391.60" width="279.80" height="280.00" fill="none" stroke="#4a4a4a" stroke-width="1.25"/>
<line x1="401.50" y1="643.60" x2="405.10" y2="643.60" stroke="#4a4a4a" stroke-width="1.1"/>
<text transform="translate(396.60,647.50) scale(0.9,1)" text-anchor="end" class="tk">-4</text>
<line x1="401.50" y1="587.60" x2="405.10" y2="587.60" stroke="#4a4a4a" stroke-width="1.1"/>
<text transform="translate(396.60,591.50) scale(0.9,1)" text-anchor="end" class="tk">-2</text>
<line x1="401.50" y1="531.60" x2="405.10" y2="531.60" stroke="#4a4a4a" stroke-width="1.1"/>
<text transform="translate(396.60,535.50) scale(0.9,1)" text-anchor="end" class="tk">0</text>
<line x1="401.50" y1="475.60" x2="405.10" y2="475.60" stroke="#4a4a4a" stroke-width="1.1"/>
<text transform="translate(396.60,479.50) scale(0.9,1)" text-anchor="end" class="tk">2</text>
<line x1="401.50" y1="419.60" x2="405.10" y2="419.60" stroke="#4a4a4a" stroke-width="1.1"/>
<text transform="translate(396.60,423.50) scale(0.9,1)" text-anchor="end" class="tk">4</text>
<text transform="translate(401.50,686.10) scale(0.9,1)" text-anchor="middle" class="tk">0</text>
<line x1="457.46" y1="671.60" x2="457.46" y2="667.80" stroke="#4a4a4a" stroke-width="1.1"/>
<text transform="translate(457.46,686.10) scale(0.9,1)" text-anchor="middle" class="tk">1</text>
<line x1="513.42" y1="671.60" x2="513.42" y2="667.80" stroke="#4a4a4a" stroke-width="1.1"/>
<text transform="translate(513.42,686.10) scale(0.9,1)" text-anchor="middle" class="tk">2</text>
<line x1="569.38" y1="671.60" x2="569.38" y2="667.80" stroke="#4a4a4a" stroke-width="1.1"/>
<text transform="translate(569.38,686.10) scale(0.9,1)" text-anchor="middle" class="tk">3</text>
<line x1="625.34" y1="671.60" x2="625.34" y2="667.80" stroke="#4a4a4a" stroke-width="1.1"/>
<text transform="translate(625.34,686.10) scale(0.9,1)" text-anchor="middle" class="tk">4</text>
<text transform="translate(681.30,686.10) scale(0.9,1)" text-anchor="middle" class="tk">5</text>
<text transform="translate(10.90,136.20) rotate(-90)" text-anchor="middle" class="lab">Impact road input displacement (mm)</text>
<text transform="translate(377.70,146.20) rotate(-90)" text-anchor="middle" class="lab">Sprung mass acceleration (m/s<tspan font-size="8" dy="-4.5">2</tspan><tspan dy="4.5">)</tspan></text>
<text transform="translate(10.30,531.50) rotate(-90)" text-anchor="middle" class="lab">Suspension working space (mm)</text>
<text transform="translate(377.90,531.20) rotate(-90)" text-anchor="middle" class="lab">Dynamic tire deformation (mm)</text>
<text x="174.30" y="316.60" text-anchor="middle" class="lab">Time (s)</text>
<text x="541.90" y="315.20" text-anchor="middle" class="lab">Time (s)</text>
<text x="174.20" y="700.70" text-anchor="middle" class="lab">Time (s)</text>
<text x="542.00" y="700.70" text-anchor="middle" class="lab">Time (s)</text>
<text x="159.95" y="344.30" class="sub">(</text>
<text x="167.00" y="346.50" class="sub">a</text>
<text x="179.70" y="344.30" class="sub">)</text>
<text x="528.15" y="344.30" class="sub">(</text>
<text x="535.60" y="346.50" class="sub">b</text>
<text x="547.90" y="344.30" class="sub">)</text>
<text x="160.15" y="730.10" class="sub">(</text>
<text x="168.00" y="732.30" class="sub" style="stroke-width:0.75px">c</text>
<text x="179.20" y="730.10" class="sub">)</text>
<text x="528.15" y="729.90" class="sub">(</text>
<text x="535.80" y="732.10" class="sub">d</text>
<text x="547.90" y="729.90" class="sub">)</text>
<line x1="410.70" y1="25.00" x2="433.90" y2="25.00" stroke="#5cee5c" stroke-width="1.5" stroke-dasharray="5 2 1 2"/>
<text x="435.50" y="27.90" class="leg">Passive</text>
<line x1="472.10" y1="25.00" x2="494.20" y2="25.00" stroke="#333333" stroke-width="1.3" stroke-dasharray="4 2 1 2 1 2"/>
<text x="497.00" y="27.90" class="leg">PID</text>
<line x1="520.10" y1="25.00" x2="540.20" y2="25.00" stroke="#ff5cff" stroke-width="1.5" stroke-dasharray="3.8 3.2"/>
<text x="544.90" y="27.90" class="leg">LQR</text>
<line x1="570.90" y1="25.00" x2="591.20" y2="25.00" stroke="#3a3aff" stroke-width="1.5" stroke-dasharray="4 3.5"/>
<path transform="translate(596.00,22.30) scale(1.0)" d="M0.3,2.4 C0.6,1.2 2.0,0.7 3.4,1.1 M3.4,1.1 C3.1,3.0 2.7,4.8 2.2,5.8 C1.8,6.6 0.9,6.8 0.3,6.3 M2.6,4.0 L5.6,3.6 M8.8,0.5 C7.6,0.1 6.4,0.4 5.9,1.2 C5.5,2.8 5.2,4.6 5.0,6.2" fill="none" stroke="#222" stroke-width="0.95" stroke-linecap="round"/>
<text x="602.50" y="30.40" class="inf">∞</text>
<line x1="615.00" y1="25.00" x2="636.90" y2="25.00" stroke="#ff9d45" stroke-width="1.15"/>
<text x="639.30" y="27.90" class="leg">LPV-</text>
<path transform="translate(660.50,22.30) scale(1.0)" d="M0.3,2.4 C0.6,1.2 2.0,0.7 3.4,1.1 M3.4,1.1 C3.1,3.0 2.7,4.8 2.2,5.8 C1.8,6.6 0.9,6.8 0.3,6.3 M2.6,4.0 L5.6,3.6 M8.8,0.5 C7.6,0.1 6.4,0.4 5.9,1.2 C5.5,2.8 5.2,4.6 5.0,6.2" fill="none" stroke="#222" stroke-width="0.95" stroke-linecap="round"/>
<text x="667.00" y="30.40" class="inf">∞</text>
<line x1="43.20" y1="409.90" x2="61.20" y2="409.90" stroke="#5cee5c" stroke-width="1.5" stroke-dasharray="5 2 1 2"/>
<text x="67.70" y="413.60" class="leg">Passive</text>
<line x1="104.60" y1="409.90" x2="123.00" y2="409.90" stroke="#333333" stroke-width="1.3" stroke-dasharray="4 2 1 2 1 2"/>
<text x="129.00" y="413.60" class="leg">PID</text>
<line x1="152.00" y1="409.90" x2="171.80" y2="409.90" stroke="#ff4cff" stroke-width="1.45" stroke-dasharray="1.3 1.25"/>
<text x="176.50" y="413.60" class="leg">LQR</text>
<line x1="203.70" y1="409.90" x2="223.60" y2="409.90" stroke="#3a3aff" stroke-width="1.5" stroke-dasharray="4 3.5"/>
<path transform="translate(228.00,408.00) scale(1.0)" d="M0.3,2.4 C0.6,1.2 2.0,0.7 3.4,1.1 M3.4,1.1 C3.1,3.0 2.7,4.8 2.2,5.8 C1.8,6.6 0.9,6.8 0.3,6.3 M2.6,4.0 L5.6,3.6 M8.8,0.5 C7.6,0.1 6.4,0.4 5.9,1.2 C5.5,2.8 5.2,4.6 5.0,6.2" fill="none" stroke="#222" stroke-width="0.95" stroke-linecap="round"/>
<text x="234.50" y="416.10" class="inf">∞</text>
<line x1="246.70" y1="409.90" x2="266.80" y2="409.90" stroke="#ff9d45" stroke-width="1.15"/>
<text x="271.60" y="413.60" class="leg">LPV-</text>
<path transform="translate(292.00,408.00) scale(1.0)" d="M0.3,2.4 C0.6,1.2 2.0,0.7 3.4,1.1 M3.4,1.1 C3.1,3.0 2.7,4.8 2.2,5.8 C1.8,6.6 0.9,6.8 0.3,6.3 M2.6,4.0 L5.6,3.6 M8.8,0.5 C7.6,0.1 6.4,0.4 5.9,1.2 C5.5,2.8 5.2,4.6 5.0,6.2" fill="none" stroke="#222" stroke-width="0.95" stroke-linecap="round"/>
<text x="298.50" y="416.10" class="inf">∞</text>
<line x1="410.60" y1="410.20" x2="429.00" y2="410.20" stroke="#5cee5c" stroke-width="1.5" stroke-dasharray="5 2 1 2"/>
<text x="435.60" y="413.70" class="leg">Passive</text>
<line x1="472.00" y1="410.20" x2="491.00" y2="410.20" stroke="#333333" stroke-width="1.3" stroke-dasharray="4 2 1 2 1 2"/>
<text x="496.80" y="413.70" class="leg">PID</text>
<line x1="519.90" y1="410.20" x2="540.30" y2="410.20" stroke="#ff4cff" stroke-width="1.45" stroke-dasharray="1.3 1.25"/>
<text x="544.90" y="413.70" class="leg">LQR</text>
<line x1="571.20" y1="410.20" x2="591.00" y2="410.20" stroke="#3a3aff" stroke-width="1.5" stroke-dasharray="4 3.5"/>
<path transform="translate(595.80,408.10) scale(1.0)" d="M0.3,2.4 C0.6,1.2 2.0,0.7 3.4,1.1 M3.4,1.1 C3.1,3.0 2.7,4.8 2.2,5.8 C1.8,6.6 0.9,6.8 0.3,6.3 M2.6,4.0 L5.6,3.6 M8.8,0.5 C7.6,0.1 6.4,0.4 5.9,1.2 C5.5,2.8 5.2,4.6 5.0,6.2" fill="none" stroke="#222" stroke-width="0.95" stroke-linecap="round"/>
<text x="602.30" y="416.20" class="inf">∞</text>
<line x1="614.90" y1="410.20" x2="634.80" y2="410.20" stroke="#ff9d45" stroke-width="1.15"/>
<text x="639.50" y="413.70" class="leg">LPV-</text>
<path transform="translate(660.60,408.10) scale(1.0)" d="M0.3,2.4 C0.6,1.2 2.0,0.7 3.4,1.1 M3.4,1.1 C3.1,3.0 2.7,4.8 2.2,5.8 C1.8,6.6 0.9,6.8 0.3,6.3 M2.6,4.0 L5.6,3.6 M8.8,0.5 C7.6,0.1 6.4,0.4 5.9,1.2 C5.5,2.8 5.2,4.6 5.0,6.2" fill="none" stroke="#222" stroke-width="0.95" stroke-linecap="round"/>
<text x="667.10" y="416.20" class="inf">∞</text>
</svg></body></html>
